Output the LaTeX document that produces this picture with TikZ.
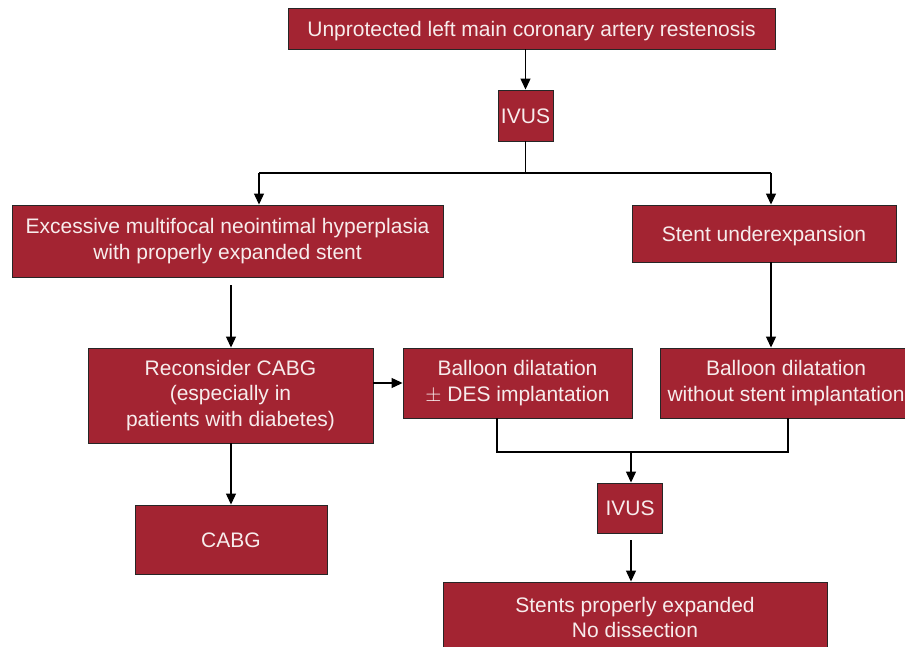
\documentclass[tikz,border=0pt]{standalone}
\usepackage{fontspec}
\setmainfont{Liberation Sans}
\usetikzlibrary{arrows.meta}
\definecolor{boxred}{HTML}{A32432}
\definecolor{boxtext}{HTML}{F7ECEC}
\tikzset{
  flowbox/.style={draw=black!85, line width=0.9pt, fill=boxred, text=boxtext,
    align=center, inner sep=0pt, font=\fontsize{21}{25.5}\selectfont},
  oneline/.style={flowbox, text height=15.1pt, text depth=0pt},
  conn/.style={line width=1.2pt, black},
  arr/.style={conn, -{Triangle[width=10pt,length=11pt]}}
}
\begin{document}
\begin{tikzpicture}[x=1pt,y=1pt]
\useasboundingbox (0,0) rectangle (905,-647);
\node[oneline, minimum width=487pt, minimum height=41pt] (top) at (531.5,-28.5) {Unprotected left main coronary artery restenosis};
\node[oneline, minimum width=55pt, minimum height=51pt] (ivus1) at (525.5,-115.5) {IVUS};
\node[flowbox, minimum width=431pt, minimum height=72pt] (exc) at (227.5,-241) {Excessive multifocal neointimal hyperplasia\\with properly expanded stent};
\node[oneline, minimum width=264pt, minimum height=57pt] (stent) at (764,-233.5) {Stent underexpansion};
\node[flowbox, minimum width=285pt, minimum height=95pt] (recon) at (230.5,-395.5) {Reconsider CABG\\(especially in\\patients with diabetes)};
\node[flowbox, minimum width=229pt, minimum height=70pt] (bdes) at (517.5,-383) {Balloon dilatation\\$\pm$ DES implantation};
\node[flowbox, minimum width=252pt, minimum height=70pt] (bwo) at (786,-383) {Balloon dilatation\\without stent implantation};
\node[oneline, minimum width=192pt, minimum height=69pt] (cabg) at (231,-539.5) {CABG};
\node[oneline, minimum width=65pt, minimum height=50pt] (ivus2) at (630,-508) {IVUS};
\node[flowbox, minimum width=384pt, minimum height=96pt] (stents) at (635,-630) {Stents properly expanded\\No dissection\\\mbox{}};

\coordinate (cL) at (259,-173);
\coordinate (cR) at (771,-173);
\coordinate (e1) at (231,-285);
\coordinate (m1) at (497,-452);
\coordinate (m2) at (788,-452);
\coordinate (mc) at (631,-452);
\coordinate (i2) at (631,-540);

\draw[arr] (ivus1.north |- top.south) -- (ivus1.north);
\draw[conn] (ivus1.south) -- (ivus1.south |- cL);
\draw[conn] (cL) -- (cR);
\draw[arr] (cL) -- (cL |- exc.north);
\draw[arr] (cR) -- (cR |- stent.north);
\draw[arr] (e1) -- (e1 |- recon.north);
\draw[arr] (cR |- stent.south) -- (cR |- bwo.north);
\draw[arr] (recon.east |- bdes.west) -- (bdes.west);
\draw[arr] (cabg.north |- recon.south) -- (cabg.north);
\draw[conn] (m1 |- bdes.south) -- (m1) -- (m2) -- (m2 |- bwo.south);
\draw[arr] (mc) -- (mc |- ivus2.north);
\draw[arr] (i2) -- (i2 |- stents.north);
\end{tikzpicture}
\end{document}
